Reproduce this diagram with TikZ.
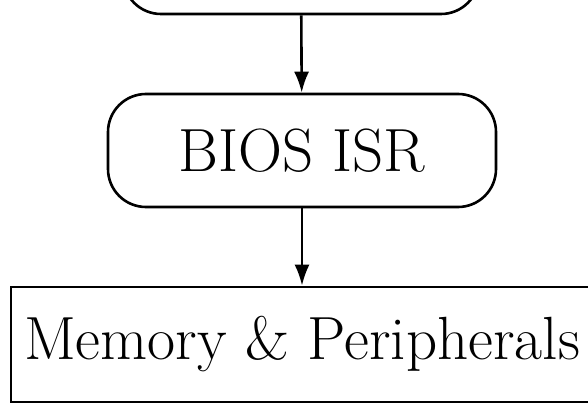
\documentclass[tikz,border=0pt]{standalone}
\usepackage{amsmath}
\usepackage{tikz}
\usetikzlibrary{arrows.meta}

\begin{document}
\begin{tikzpicture}
	[
	x=1pt, y=-1pt,
	roundbox/.style={
		draw,
		line width=2.6pt,
		rounded corners=38pt,
		minimum width=388pt,
		minimum height=113pt,
		font=\fontsize{61}{73}\selectfont
	},
	plainbox/.style={
		draw,
		line width=2.6pt,
		minimum width=582pt,
		minimum height=115pt,
		font=\fontsize{61}{73}\selectfont
	},
	arrow/.style={
		-{Latex[length=21pt,width=15pt]},
		line width=2.6pt
	}
	]
	
	% visible frame
	\path[use as bounding box, clip] (0,0) rectangle (588,403);
	
	% previous stage (cut off at the top)
	\node[roundbox, minimum width=356pt, minimum height=100pt] (prev_stage) at (301,-36)
	{};
	
	% interrupt service routine
	\node[roundbox] (bios_isr) at (302,150.5)
	{BIOS ISR};
	
	% hardware
	\node[plainbox] (mem_periph) at (302,344.5)
	{Memory \& Peripherals};
	
	% Arrows
	\draw[arrow] (prev_stage) -- (bios_isr);
	\draw[arrow] (bios_isr) -- (mem_periph);
	
\end{tikzpicture}
\end{document}
